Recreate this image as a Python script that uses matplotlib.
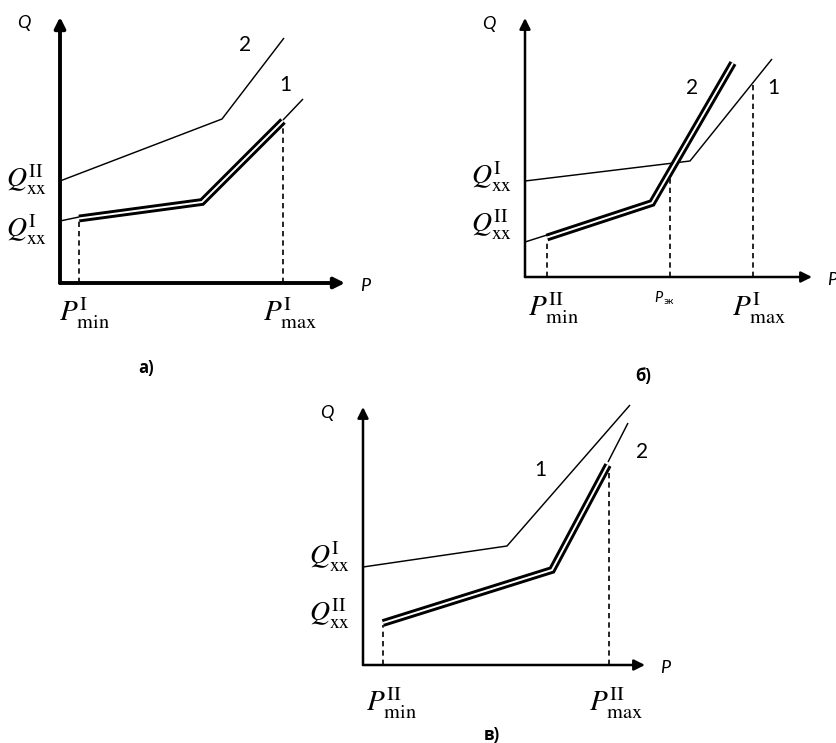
import matplotlib
matplotlib.use('Agg')
import matplotlib.pyplot as plt

plt.rcParams['mathtext.fontset'] = 'stix'
SANS = ['Lato', 'DejaVu Sans']
BOLD = ['Open Sans', 'DejaVu Sans']
W, H = 836, 743

# ── Panel а) ── local units: P to the right, Q up, origin at axis corner
a_thin = [([0, 162, 224], [102, 164, 245]),        # curve 2
          ([0, 19], [62, 66]),                     # curve 1, start
          ([223, 243], [163, 184])]                # curve 1, end
a_work = ([19, 142, 223], [64.5, 81, 162])          # working range (double line)
a_drops = [(19, 62), (223, 160)]
a_tip = (285, 266)
a_qlabels = [(r'$Q_{\mathrm{xx}}^{\mathrm{II}}$', 103), (r'$Q_{\mathrm{xx}}^{\mathrm{I}}$', 53)]
a_plabels = [(r'$P_{\mathrm{min}}^{\mathrm{I}}$', 23), (r'$P_{\mathrm{max}}^{\mathrm{I}}$', 228)]
a_nums = [('2', 185, 238), ('1', 225, 198)]

# ── Panel б) ──
b_thin = [([0, 165, 247], [96, 116, 218]),          # curve 1
          ([0, 22], [35, 42])]                      # curve 2, start
b_work = ([22, 127, 208], [39.5, 74, 214])
b_drops = [(22, 36), (145, 100), (228, 194)]
b_tip = (287, 259)
b_qlabels = [(r'$Q_{\mathrm{xx}}^{\mathrm{I}}$', 100), (r'$Q_{\mathrm{xx}}^{\mathrm{II}}$', 52)]
b_plabels = [(r'$P_{\mathrm{min}}^{\mathrm{II}}$', 27), (r'$P_{\mathrm{max}}^{\mathrm{I}}$', 232)]
b_nums = [('2', 167, 189), ('1', 248, 189)]

# ── Panel в) ──
c_thin = [([0, 144, 267], [98, 119, 260]),          # curve 1
          ([245, 265], [203, 242])]                 # curve 2, end
c_work = ([20, 189, 245], [42, 95, 200])
c_drops = [(20, 40), (246, 195)]
c_tip = (282, 258)
c_qlabels = [(r'$Q_{\mathrm{xx}}^{\mathrm{I}}$', 108), (r'$Q_{\mathrm{xx}}^{\mathrm{II}}$', 51)]
c_plabels = [(r'$P_{\mathrm{min}}^{\mathrm{II}}$', 27), (r'$P_{\mathrm{max}}^{\mathrm{II}}$', 251)]
c_nums = [('1', 177, 195), ('2', 279, 213)]

fig = plt.figure(figsize=(W / 100, H / 100), dpi=100)


def panel(box, origin, thin, work, drops, tip, qlabels, plabels, nums,
          caption, cap_xy, axis_lw, plab_y):
    x0, y0, x1, y1 = box
    ox, oy = origin
    ax = fig.add_axes([x0 / W, (H - y1) / H, (x1 - x0) / W, (y1 - y0) / H])
    ax.set_xlim(x0 - ox, x1 - ox)
    ax.set_ylim(oy - y1, oy - y0)
    ax.axis('off')

    # axes with arrows
    for end in [(tip[0], 0), (0, tip[1])]:
        ax.annotate('', xy=end, xytext=(0, 0),
                    arrowprops=dict(arrowstyle='-|>', lw=axis_lw, color='black',
                                    shrinkA=0, shrinkB=0, mutation_scale=16))
    ax.text(-36, tip[1] - 6, 'Q', fontsize=13, style='italic', family=SANS,
            ha='center', va='center')
    ax.text(tip[0] + 20, -3, 'P', fontsize=13, style='italic', family=SANS,
            ha='center', va='center')

    for xs, ys in thin:
        ax.plot(xs, ys, color='black', lw=1.05, solid_capstyle='butt')
    ax.plot(*work, color='black', lw=5.6, solid_joinstyle='miter',
            solid_capstyle='butt')
    ax.plot(*work, color='white', lw=1.4, solid_joinstyle='miter',
            solid_capstyle='butt')
    for px, top in drops:
        ax.plot([px, px], [0, top], color='black', lw=1.2,
                linestyle=(0, (3.2, 2.4)))

    for txt, q in qlabels:
        ax.text(-33, q, txt, fontsize=20, ha='center', va='center')
    for txt, p in plabels:
        ax.text(p + 2, plab_y, txt, fontsize=21, ha='center', va='center')
    for txt, p, q in nums:
        ax.text(p, q, txt, fontsize=15, family=SANS, ha='center', va='center')
    ax.text(*cap_xy, caption, fontsize=12, fontweight='bold', family=BOLD,
            ha='center', va='center')
    return ax


panel((0, 0, 418, 390), (60, 283), a_thin, a_work, a_drops, a_tip,
      a_qlabels, a_plabels, a_nums, 'а)', (86, -85), 2.8, -30)
axb = panel((418, 0, 836, 390), (525, 277), b_thin, b_work, b_drops, b_tip,
            b_qlabels, b_plabels, b_nums, 'б)', (118, -99), 1.8, -31)
axb.text(133, -21, 'P', fontsize=10.5, style='italic', family=SANS,
         ha='center', va='center')
axb.text(144, -24, 'эк', fontsize=7.5, family=SANS, ha='center', va='center')
panel((280, 390, 700, 743), (363, 665), c_thin, c_work, c_drops, c_tip,
      c_qlabels, c_plabels, c_nums, 'в)', (129, -70), 1.8, -38)

fig.savefig('out.png', dpi=100)
